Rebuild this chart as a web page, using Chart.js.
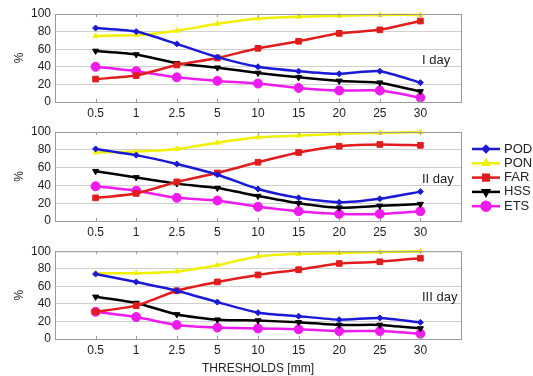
<!DOCTYPE html>
<html>
<head>
<meta charset="utf-8">
<script src="https://cdn.jsdelivr.net/npm/chart.js@4/dist/chart.umd.min.js"></script>
<style>
  body { margin: 0; background: #fff; }
  .panel { position: absolute; left: 0; width: 533px; }
</style>
</head>
<body>
<div class="panel" style="top:0;height:120px"><canvas id="day1"></canvas></div>
<div class="panel" style="top:120px;height:120px"><canvas id="day2"></canvas></div>
<div class="panel" style="top:240px;height:136px"><canvas id="day3"></canvas></div>
<script>
const thresholds = ["0.5", "1", "2.5", "5", "10", "15", "20", "25", "30"];
const yTicks = [0, 20, 40, 60, 80, 100];

// I day
const pod1 = [84, 80, 66, 51, 40, 35, 32, 35, 22];
const pon1 = [75, 76, 81, 89, 95, 97, 98, 99, 99];
const far1 = [26, 30, 42, 50, 61, 69, 78, 82, 92];
const hss1 = [58, 54, 44, 39, 33, 28, 24, 22, 12];
const ets1 = [40, 35, 28, 24, 21, 16, 13, 13, 5];

// II day
const pod2 = [81, 74, 64, 52, 36, 26, 21, 25, 33];
const pon2 = [77, 78, 81, 88, 94, 96, 98, 99, 100];
const far2 = [26, 31, 44, 54, 66, 77, 84, 86, 85];
const hss2 = [56, 49, 42, 37, 28, 20, 15, 17, 19];
const ets2 = [39, 34, 26, 23, 16, 11, 8, 8, 11];

// III day
const pod3 = [74, 65, 55, 42, 30, 26, 22, 24, 19];
const pon3 = [75, 75, 77, 84, 94, 97, 98, 99, 100];
const far3 = [31, 38, 55, 65, 73, 79, 86, 88, 92];
const hss3 = [48, 41, 28, 22, 21, 19, 16, 16, 12];
const ets3 = [31, 25, 16, 13, 12, 11, 9, 9, 6];

const seriesStyle = {
  POD: { color: "#1a1ad6", pointStyle: "rectRot", radius: 3, rotation: 0 },
  PON: { color: "#f0f000", pointStyle: "triangle", radius: 3, rotation: 0 },
  FAR: { color: "#e01c1c", pointStyle: "rect", radius: 4, rotation: 0 },
  HSS: { color: "#000000", pointStyle: "triangle", radius: 3.5, rotation: 180 },
  ETS: { color: "#ee1aee", pointStyle: "circle", radius: 4.5, rotation: 0 },
};

const fontFamily = "'Liberation Sans', Arial, sans-serif";

function makeDataset(name, values) {
  const s = seriesStyle[name];
  return {
    label: name,
    data: values.map((v, i) => ({ x: i, y: v })),
    borderColor: s.color,
    backgroundColor: s.color,
    borderWidth: 2.5,
    pointStyle: s.pointStyle,
    pointRadius: s.radius,
    pointRotation: s.rotation,
    pointBorderWidth: 1,
    tension: 0.2,
    clip: 6,
  };
}

const boxPlugin = {
  id: "box",
  afterDraw(chart, args, opts) {
    const a = chart.chartArea;
    const c = chart.ctx;
    c.save();
    c.strokeStyle = "#9a9a9a";
    c.lineWidth = 1;
    c.strokeRect(a.left + 0.5, a.top + 0.5, a.right - a.left, a.bottom - a.top);
    // small tick marks at categories on top and bottom
    const xs = chart.scales.x;
    thresholds.forEach((t, i) => {
      const px = Math.round(xs.getPixelForValue(i)) + 0.5;
      c.beginPath();
      c.moveTo(px, a.bottom); c.lineTo(px, a.bottom - 3);
      c.moveTo(px, a.top); c.lineTo(px, a.top + 3);
      c.stroke();
    });
    c.fillStyle = "#222";
    c.font = "13px " + fontFamily;
    c.textAlign = "left";
    c.textBaseline = "middle";
    c.fillText(opts.text, 422, chart.scales.y.getPixelForValue(47));
    c.restore();
  },
};

const legendPlugin = {
  id: "sideLegend",
  afterDraw(chart) {
    const c = chart.ctx;
    c.save();
    c.font = "13px " + fontFamily;
    c.textBaseline = "middle";
    c.textAlign = "left";
    chart.data.datasets.forEach((ds, i) => {
      const s = seriesStyle[ds.label];
      const y = 29 + i * 14.3;
      c.strokeStyle = s.color;
      c.lineWidth = 2.5;
      c.beginPath();
      c.moveTo(472, y); c.lineTo(500, y);
      c.stroke();
      c.fillStyle = s.color;
      if (Chart.helpers && Chart.helpers.drawPoint) {
        Chart.helpers.drawPoint(c, { pointStyle: s.pointStyle, radius: s.radius, rotation: s.rotation, borderWidth: 1 }, 486, y);
        c.strokeStyle = s.color;
        c.fill();
      }
      c.fillStyle = "#222";
      c.fillText(ds.label, 504, y);
    });
    c.restore();
  },
};

function makeChart(id, dayText, sets, padTop, xHeight, withTitle, extraPlugins) {
  return new Chart(document.getElementById(id), {
    type: "line",
    data: {
      datasets: [
        makeDataset("POD", sets[0]),
        makeDataset("PON", sets[1]),
        makeDataset("FAR", sets[2]),
        makeDataset("HSS", sets[3]),
        makeDataset("ETS", sets[4]),
      ],
    },
    plugins: [boxPlugin].concat(extraPlugins),
    options: {
      responsive: true,
      maintainAspectRatio: false,
      animation: false,
      layout: { padding: { top: padTop, right: 72, left: 0, bottom: 0 } },
      plugins: {
        legend: { display: false },
        tooltip: { enabled: false },
        box: { text: dayText },
      },
      scales: {
        x: {
          type: "linear",
          min: -1,
          max: 9,
          border: { display: false },
          grid: { display: false, drawTicks: false },
          afterBuildTicks: (axis) => {
            axis.ticks = thresholds.map((t, i) => ({ value: i }));
          },
          afterFit: (axis) => { axis.height = xHeight; },
          ticks: {
            autoSkip: false,
            maxRotation: 0,
            padding: 4,
            color: "#222",
            font: { family: fontFamily, size: 12 },
            callback: (v) => thresholds[v] !== undefined ? thresholds[v] : "",
          },
          title: {
            display: withTitle,
            text: "THRESHOLDS [mm]",
            color: "#222",
            font: { family: fontFamily, size: 12 },
            padding: { top: 2, bottom: 0 },
          },
        },
        y: {
          min: 0,
          max: 100,
          border: { display: false },
          afterBuildTicks: (axis) => {
            axis.ticks = yTicks.map((v) => ({ value: v }));
          },
          afterFit: (axis) => { axis.width = 55; },
          grid: { color: "#d0d0d0", drawTicks: false, lineWidth: 1 },
          ticks: {
            padding: 4,
            color: "#222",
            font: { family: fontFamily, size: 12 },
          },
          title: {
            display: true,
            text: "%",
            color: "#222",
            font: { family: fontFamily, size: 12 },
            padding: { top: 12, bottom: 0 },
          },
        },
      },
    },
  });
}

makeChart("day1", "I day", [pod1, pon1, far1, hss1, ets1], 14, 18, false, []);
makeChart("day2", "II day", [pod2, pon2, far2, hss2, ets2], 12, 19, false, [legendPlugin]);
makeChart("day3", "III day", [pod3, pon3, far3, hss3, ets3], 10, 37, true, []);
</script>
</body>
</html>
